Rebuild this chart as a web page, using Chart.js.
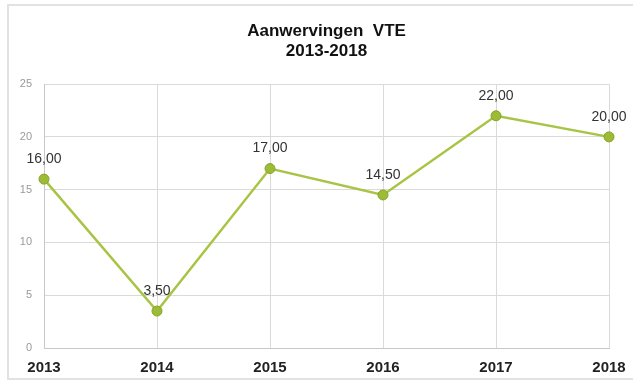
<!DOCTYPE html>
<html>
<head>
<meta charset="utf-8">
<script src="https://cdn.jsdelivr.net/npm/chart.js@4/dist/chart.umd.min.js"></script>
<style>
  html, body { margin: 0; padding: 0; background: #fff; }
  #wrap { position: relative; width: 633px; height: 383px; }
  #frame { position: absolute; left: 7px; top: 4px; width: 640px; height: 376px;
           border: 2px solid #e2e2e2; box-sizing: border-box; }
  canvas { position: absolute; left: 0; top: 0; }
</style>
</head>
<body>
<div id="wrap">
  <div id="frame"></div>
  <canvas id="c" width="633" height="383"></canvas>
</div>
<script>
// Aanwervingen in VTE per jaar
const years = ['2013', '2014', '2015', '2016', '2017', '2018'];
const vte = [16.00, 3.50, 17.00, 14.50, 22.00, 20.00];
const yMin = 0;
const yMax = 25;
const yStep = 5;
const titleLines = ['Aanwervingen  VTE', '2013-2018'];

const fmt = v => v.toFixed(2).replace('.', ',');

// value labels above each point
const valueLabels = {
  id: 'valueLabels',
  afterDatasetsDraw(chart) {
    const ctx = chart.ctx;
    const meta = chart.getDatasetMeta(0);
    ctx.save();
    ctx.font = '14px "Liberation Sans", Arial, sans-serif';
    ctx.fillStyle = '#333';
    ctx.textAlign = 'center';
    ctx.textBaseline = 'middle';
    meta.data.forEach((pt, i) => {
      ctx.fillText(fmt(chart.data.datasets[0].data[i]), pt.x, pt.y - 20);
    });
    ctx.restore();
  }
};

new Chart(document.getElementById('c'), {
  type: 'line',
  data: {
    labels: years,
    datasets: [{
      data: vte,
      borderColor: '#a8c444',
      borderWidth: 2.5,
      pointRadius: 5,
      pointBackgroundColor: '#9dbb35',
      pointBorderColor: '#86a32b',
      pointBorderWidth: 1,
      tension: 0,
      fill: false
    }]
  },
  options: {
    responsive: false,
    animation: false,
    layout: { padding: { left: 20, right: 24, top: 0, bottom: 0 } },
    plugins: {
      legend: { display: false },
      tooltip: { enabled: false },
      title: {
        display: true,
        fullSize: false,
        text: titleLines,
        color: '#111',
        font: { family: '"Liberation Sans", Arial, sans-serif', size: 17, weight: 'bold', lineHeight: 1.18 },
        padding: { top: 21, bottom: 23 }
      }
    },
    scales: {
      x: {
        offset: false,
        afterFit(scale) { scale.height = 35; scale.paddingLeft = 0; scale.paddingRight = 0; },
        grid: { color: '#dadada', drawTicks: false },
        border: { color: '#c8c8c8' },
        ticks: {
          color: '#222',
          padding: 11,
          maxRotation: 0,
          font: { family: '"Liberation Sans", Arial, sans-serif', size: 15, weight: 'bold' }
        }
      },
      y: {
        min: yMin,
        max: yMax,
        afterFit(scale) { scale.width = 24; },
        grid: { color: '#dadada', drawTicks: false },
        border: { color: '#c8c8c8' },
        ticks: {
          stepSize: yStep,
          color: '#999',
          padding: 12,
          font: { family: '"Liberation Sans", Arial, sans-serif', size: 11 }
        }
      }
    }
  },
  plugins: [valueLabels]
});
</script>
</body>
</html>
